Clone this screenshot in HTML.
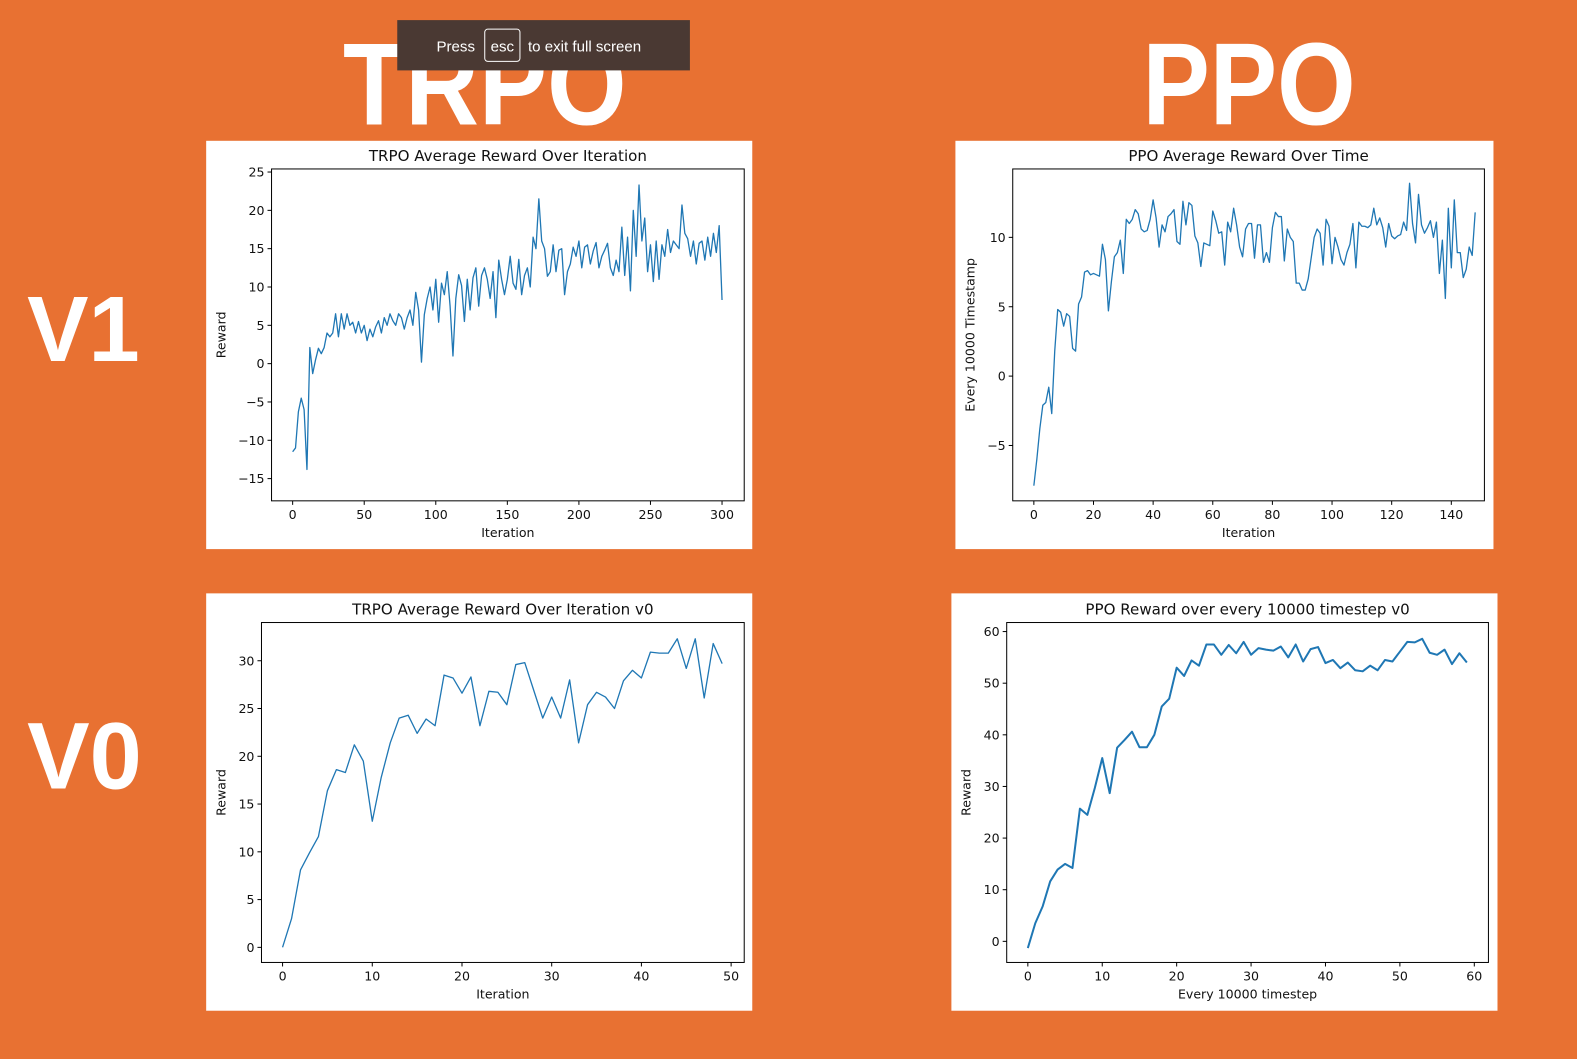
<!DOCTYPE html>
<html><head><meta charset="utf-8">
<style>
html,body{margin:0;padding:0;}
body{width:1577px;height:1053px;background:#E87132;position:relative;overflow:hidden;font-family:"DejaVu Sans","Liberation Sans",sans-serif;}
#wrap{position:absolute;left:0;top:0;width:1568px;height:1047px;transform:scale(1.0057);transform-origin:0 0;}
.panel{position:absolute;background:#fff;}
svg{position:absolute;left:0;top:0;}
</style></head>
<body>
<div id="wrap">
<div class="panel" style="left:205px;top:140px;width:543px;height:406px"></div>
<div class="panel" style="left:950px;top:140px;width:535px;height:406px"></div>
<div class="panel" style="left:205px;top:590px;width:543px;height:415px"></div>
<div class="panel" style="left:946px;top:590px;width:543px;height:415px"></div>

<svg id="main" width="1577" height="1053">
  <g font-family="Liberation Sans, DejaVu Sans, sans-serif" font-weight="bold" fill="#fff">
    <text x="341" y="124" font-size="116" textLength="282" lengthAdjust="spacingAndGlyphs">TRPO</text>
    <text x="1136" y="124" font-size="116" textLength="212" lengthAdjust="spacingAndGlyphs">PPO</text>
    <text x="27" y="359" font-size="92" textLength="112" lengthAdjust="spacingAndGlyphs">V1</text>
    <text x="27" y="784" font-size="94" textLength="114" lengthAdjust="spacingAndGlyphs">V0</text>
  </g>
  <g id="charts"></g>
  <g>
    <rect x="395" y="20" width="291" height="50" fill="#4a3933"/>
    <text x="434" y="51" font-size="15" fill="#fff" font-family="Liberation Sans, sans-serif">Press</text>
    <rect x="482" y="29" width="35" height="32" rx="3" fill="none" stroke="#fff" stroke-width="1"/>
    <text x="499.5" y="51" font-size="15" fill="#fff" text-anchor="middle" font-family="Liberation Sans, sans-serif">esc</text>
    <text x="525" y="51" font-size="15" fill="#fff" font-family="Liberation Sans, sans-serif">to exit full screen</text>
  </g>
</svg>
</div>

<script>
// ---- TRPO v1 data (every 2 iterations) ----
const trpoV1Iter = [];
for (let i = 0; i <= 300; i += 2) trpoV1Iter.push(i);
const trpoV1Reward = [-11.5,-11,-6.3,-4.5,-6,-13.8,2.1,-1.3,0.5,2,1.3,2.1,4,3.5,4,6.5,3.5,6.5,4.5,6.5,5,5.4,4,5.5,4,5,3,4.5,3.5,4.8,5.6,4,6,5,6.5,5.6,5,6.5,6,4.5,6,7,5,9.3,7,0.2,6.4,8.5,10,7,11,5.4,10.5,9,12,7.5,1,8.5,11.6,10.2,5.5,11,7,11.2,12.5,7.5,11.5,12.5,11,8.5,12,6,13.5,11,9,11,14,10.5,9.7,13.6,9,11.5,12.5,10,16.5,15,21.5,16,15,11.4,12,15.5,12,14.8,15,9,12,13,15.2,14,16,12.5,15.2,15.5,13,14.7,15.8,12.5,14,14.8,15.7,12.5,11.5,13.5,12,17.8,11.5,16.5,9.5,20,14,23.3,16,19,12,15.5,10.7,16,11,15.5,14,17.5,14.5,16,15.5,15,20.7,17,16.3,14,16,13,15.7,16,13.5,16.5,14,17,14.5,18,8.3];
const trpoV1YTicks = [-15,-10,-5,0,5,10,15,20,25];
const trpoV1XTicks = [0,50,100,150,200,250,300];

// ---- PPO v1 data ----
const ppoV1Reward = [-7.9,-6,-3.8,-2.1,-1.9,-0.8,-2.7,1.8,4.8,4.6,3.6,4.5,4.3,2,1.8,5.2,5.7,7.5,7.6,7.3,7.4,7.3,7.2,9.5,8.4,4.7,6.8,8.6,8.9,9.8,7.4,11.3,11,11.3,12,11.7,10.6,10.4,10.5,11.3,12.7,11.4,9.3,10.9,10.4,11.5,11.7,12,9.7,9.5,12.6,10.9,12.5,12.3,10.1,9.6,7.9,9.6,9.5,9.4,11.9,11.2,10.3,10.4,8,11.1,10.4,12.1,10.9,9.3,8.6,10.6,11,11,8.5,10.9,10.9,8.2,8.9,8.2,10.7,11.8,11.5,11.5,8.3,10.6,10,9.7,6.7,6.7,6.2,6.2,7,8.5,10,10.6,10.3,8,11.3,10.8,8.1,10,9.3,8.4,8,8.9,9.5,11,7.8,11.1,10.8,10.8,10.7,10.9,12.1,10.9,11.4,10.7,9.3,11,10.1,9.9,10.1,10.2,11.1,10.5,13.9,11,9.6,13.1,10.9,10.3,10.7,11.2,10,11.1,7.4,9.8,5.6,12.1,7.8,12.7,8.9,8.9,7.1,7.7,9.3,8.7,11.8];
const ppoV1YTicks = [-5,0,5,10];
const ppoV1XTicks = [0,20,40,60,80,100,120,140];

// ---- TRPO v0 data ----
const trpoV0Reward = [0,3,8.1,9.9,11.6,16.4,18.6,18.3,21.2,19.5,13.2,17.8,21.4,24,24.3,22.4,23.9,23.2,28.5,28.2,26.6,28.3,23.2,26.8,26.7,25.4,29.6,29.8,26.9,24,26.2,24,28,21.4,25.4,26.7,26.2,25,27.9,29,28.2,30.9,30.8,30.8,32.3,29.2,32.3,26.1,31.8,29.7];
const trpoV0YTicks = [0,5,10,15,20,25,30];
const trpoV0XTicks = [0,10,20,30,40,50];

// ---- PPO v0 data ----
const ppoV0Reward = [-1.3,3.5,6.8,11.6,13.9,15,14.2,25.7,24.5,29.7,35.5,28.7,37.5,39,40.6,37.6,37.6,40,45.5,47,53,51.4,54.4,53.4,57.5,57.5,55.5,57.4,55.8,58,55.5,56.8,56.5,56.3,57.1,55,57.5,54.2,56.6,57,53.9,54.5,52.9,54,52.5,52.3,53.4,52.5,54.5,54.2,56.1,58,57.9,58.6,55.9,55.5,56.5,53.7,55.8,54];
const ppoV0YTicks = [0,10,20,30,40,50,60];
const ppoV0XTicks = [0,10,20,30,40,50,60];

const NS = 'http://www.w3.org/2000/svg';
const root = document.getElementById('charts');
function mk(tag, attrs, parent){
  const e = document.createElementNS(NS, tag);
  for (const k in attrs) e.setAttribute(k, attrs[k]);
  parent.appendChild(e);
  return e;
}
function drawChart(c){
  const g = mk('g', {}, root);
  
  
  const sx = v => c.L + (v - c.x0) / (c.x1 - c.x0) * (c.R - c.L);
  const sy = v => c.B - (v - c.y0) / (c.y1 - c.y0) * (c.B - c.T);
  const xs = c.xv || c.yv.map((_, i) => i);
  const d = c.yv.map((v, i) => (i ? 'L' : 'M') + sx(xs[i]).toFixed(2) + ' ' + sy(v).toFixed(2)).join(' ');
  const line = mk('path', {d: d, fill: 'none', stroke: '#1f77b4', 'stroke-width': c.sw || 1.5, 'stroke-linejoin': 'round'}, g);
  
  
  const frame = mk('rect', {x: c.L, y: c.T, width: c.R - c.L, height: c.B - c.T, fill: 'none', stroke: '#000', 'stroke-width': 1}, g);
  
  
  c.xt.forEach(t => {
    const x = sx(t);
    mk('line', {x1: x, x2: x, y1: c.B, y2: c.B + 4, stroke: '#000'}, g);
    const tx = mk('text', {x: x, y: c.B + 18, 'font-size': 12.5, 'text-anchor': 'middle', fill: '#111'}, g);
    tx.textContent = t;
    
    
  });
  c.yt.forEach(t => {
    const y = sy(t);
    mk('line', {x1: c.L - 4, x2: c.L, y1: y, y2: y, stroke: '#000'}, g);
    const ty = mk('text', {x: c.L - 7, y: y + 4.5, 'font-size': 12.5, 'text-anchor': 'end', fill: '#111'}, g);
    ty.textContent = String(t).replace('-', '\u2212');
    
    
  });
  const title = mk('text', {x: (c.L + c.R) / 2, y: c.T - 8, 'font-size': 15, 'text-anchor': 'middle', fill: '#111'}, g);
  title.textContent = c.title;
  
  
  const xl = mk('text', {x: (c.L + c.R) / 2, y: c.B + 36, 'font-size': 12.5, 'text-anchor': 'middle', fill: '#111'}, g);
  xl.textContent = c.xlabel;
  
  
  const yx = c.ylx, yy = (c.T + c.B) / 2;
  const yl = mk('text', {x: yx, y: yy, 'font-size': 12.5, 'text-anchor': 'middle', fill: '#111', transform: 'rotate(-90 ' + yx + ' ' + yy + ')'}, g);
  yl.textContent = c.ylabel;
  
  
}

drawChart({name: 'trpo-v1-chart', L: 270, R: 740, T: 168, B: 498, x0: -14.75, x1: 315.5, y0: -17.9, y1: 25.4,
  xv: trpoV1Iter, yv: trpoV1Reward, xt: trpoV1XTicks, yt: trpoV1YTicks, sw: 1.3,
  title: 'TRPO Average Reward Over Iteration', xlabel: 'Iteration', ylabel: 'Reward', ylx: 224});
drawChart({name: 'ppo-v1-chart', L: 1007, R: 1476, T: 168, B: 498, x0: -7.08, x1: 151.1, y0: -8.99, y1: 14.93,
  yv: ppoV1Reward, xt: ppoV1XTicks, yt: ppoV1YTicks, sw: 1.3,
  title: 'PPO Average Reward Over Time', xlabel: 'Iteration', ylabel: 'Every 10000 Timestamp', ylx: 969});
drawChart({name: 'trpo-v0-chart', L: 260, R: 740, T: 619, B: 957, x0: -2.35, x1: 51.46, y0: -1.58, y1: 34.0,
  yv: trpoV0Reward, xt: trpoV0XTicks, yt: trpoV0YTicks, sw: 1.3,
  title: 'TRPO Average Reward Over Iteration v0', xlabel: 'Iteration', ylabel: 'Reward', ylx: 224});
drawChart({name: 'ppo-v0-chart', L: 1001, R: 1480, T: 619, B: 957, x0: -2.84, x1: 61.9, y0: -4.09, y1: 61.75,
  yv: ppoV0Reward, xt: ppoV0XTicks, yt: ppoV0YTicks, sw: 2,
  title: 'PPO Reward over every 10000 timestep v0', xlabel: 'Every 10000 timestep', ylabel: 'Reward', ylx: 965});
</script>
</body></html>
